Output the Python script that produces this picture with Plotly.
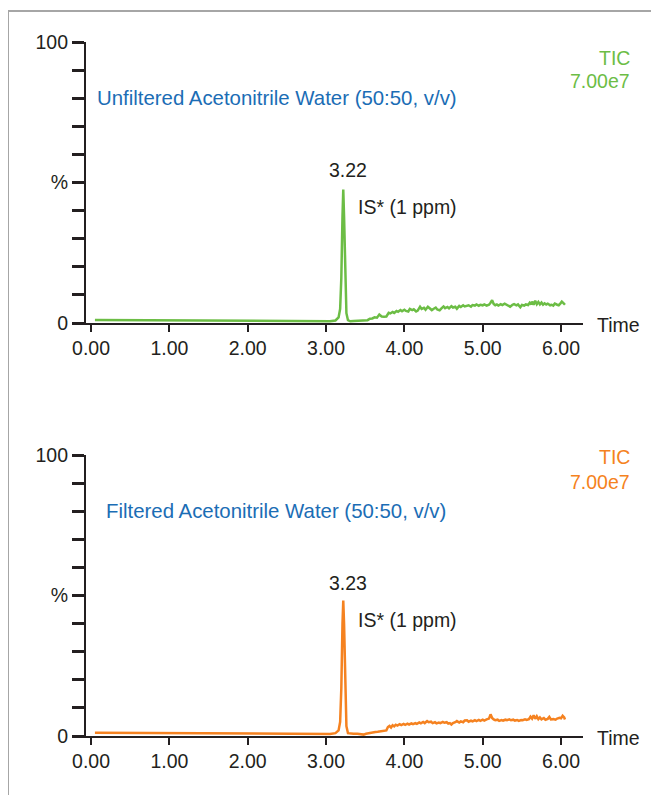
import plotly.graph_objects as go

# page body has an 8px margin, so the figure is sized to fill the remaining viewport
OFF = 8
W, H = 659 - OFF, 795 - OFF

# ---------------- data ----------------
tick_vals_x = [0, 1, 2, 3, 4, 5, 6]
tick_text_x = ["0.00", "1.00", "2.00", "3.00", "4.00", "5.00", "6.00"]
tick_vals_y = [0, 10, 20, 30, 40, 50, 60, 70, 80, 90, 100]
tick_text_y = ["0", "", "", "", "", "%", "", "", "", "", "100"]

unfilt_time = [0.05, 0.5, 1.0, 1.5, 2.0, 2.5, 2.9, 3.05, 3.12, 3.16, 3.18, 3.195, 3.21, 3.22, 3.23, 3.245, 3.26, 3.28, 3.31,
               3.35, 3.40, 3.45, 3.50, 3.53, 3.56, 3.59, 3.62, 3.65, 3.68, 3.71, 3.74, 3.77, 3.80, 3.82, 3.85, 3.87, 3.90,
               3.92, 3.95, 3.97, 4.00, 4.02, 4.05, 4.07, 4.10, 4.12, 4.15, 4.17, 4.20, 4.22, 4.25, 4.27, 4.30, 4.32, 4.35,
               4.37, 4.40, 4.42, 4.45, 4.47, 4.50, 4.52, 4.55, 4.57, 4.60, 4.62, 4.65, 4.67, 4.70, 4.72, 4.75, 4.77, 4.80,
               4.82, 4.85, 4.87, 4.90, 4.92, 4.95, 4.97, 5.00, 5.02, 5.05, 5.08, 5.10, 5.12, 5.14, 5.16, 5.18, 5.20, 5.23,
               5.25, 5.28, 5.30, 5.33, 5.35, 5.38, 5.40, 5.43, 5.45, 5.48, 5.50, 5.53, 5.55, 5.58, 5.60, 5.62, 5.63, 5.65,
               5.67, 5.69, 5.71, 5.73, 5.75, 5.77, 5.79, 5.81, 5.83, 5.86, 5.88, 5.90, 5.92, 5.95, 5.97, 5.99, 6.01, 6.03,
               6.05]
unfilt_pct = [1.1, 1.0, 0.9, 0.8, 0.7, 0.6, 0.55, 0.6, 0.9, 2.0, 5.0, 16, 38, 47.5, 38, 14, 3.5, 1.0, 0.6,
              0.7, 0.8, 0.9, 1.1, 1.0, 1.5, 1.6, 2.0, 1.9, 3.0, 2.3, 2.2, 2.3, 3.6, 3.4, 3.9, 3.6, 4.3,
              4.0, 4.6, 4.2, 4.7, 4.3, 4.1, 5.0, 4.6, 4.9, 4.1, 4.4, 5.8, 5.0, 5.4, 4.7, 5.8, 5.2, 4.6,
              5.0, 5.5, 4.8, 4.5, 5.1, 5.9, 5.3, 5.7, 5.2, 6.0, 5.5, 5.8, 5.1, 6.1, 5.7, 6.3, 5.9, 6.0,
              6.3, 5.8, 6.4, 6.2, 6.6, 6.1, 6.5, 6.3, 6.6, 6.2, 6.5, 7.2, 8.1, 6.8, 6.3, 6.6, 6.2, 6.7,
              6.4, 6.9, 6.6, 6.2, 5.8, 6.5, 6.7, 6.3, 6.6, 5.6, 6.4, 6.2, 6.6, 6.4, 7.2, 6.6, 7.6, 6.5,
              7.9, 6.7, 7.5, 6.6, 7.3, 6.5, 7.0, 6.6, 6.9, 6.3, 6.5, 6.2, 6.9, 6.5, 6.3, 6.9, 7.6, 7.1,
              6.5]

filt_time = [0.05, 0.5, 1.0, 1.5, 2.0, 2.5, 2.9, 3.05, 3.12, 3.16, 3.18, 3.195, 3.21, 3.22, 3.23, 3.245, 3.26, 3.28, 3.31,
             3.35, 3.40, 3.45, 3.48, 3.51, 3.54, 3.57, 3.60, 3.63, 3.66, 3.69, 3.72, 3.75, 3.77, 3.79, 3.81, 3.83, 3.85,
             3.87, 3.89, 3.91, 3.94, 3.96, 3.99, 4.01, 4.04, 4.06, 4.09, 4.11, 4.14, 4.16, 4.19, 4.21, 4.24, 4.26, 4.29,
             4.31, 4.34, 4.36, 4.39, 4.41, 4.44, 4.46, 4.49, 4.51, 4.54, 4.56, 4.58, 4.60, 4.62, 4.65, 4.67, 4.70, 4.72,
             4.75, 4.77, 4.80, 4.82, 4.85, 4.87, 4.90, 4.92, 4.95, 4.97, 5.00, 5.02, 5.05, 5.08, 5.10, 5.12, 5.14, 5.16,
             5.19, 5.21, 5.24, 5.26, 5.29, 5.31, 5.34, 5.36, 5.39, 5.41, 5.44, 5.46, 5.49, 5.51, 5.54, 5.56, 5.59, 5.61,
             5.63, 5.65, 5.67, 5.69, 5.71, 5.73, 5.75, 5.78, 5.80, 5.83, 5.85, 5.87, 5.90, 5.93, 5.95, 5.98, 6.00, 6.02,
             6.04, 6.05]
filt_pct = [1.2, 1.1, 1.0, 0.9, 0.8, 0.7, 0.6, 0.7, 1.0, 2.0, 5.0, 17, 40, 48.2, 40, 15, 3.5, 1.0, 0.8,
            0.8, 0.8, 0.7, 0.5, 0.8, 1.0, 1.1, 1.3, 1.4, 1.5, 1.6, 1.7, 1.8, 2.0, 3.2, 3.6, 3.0, 3.8,
            3.4, 4.0, 3.7, 4.2, 3.9, 4.3, 4.0, 4.4, 4.1, 4.5, 4.2, 4.6, 4.3, 4.8, 4.5, 5.0, 4.6, 5.3,
            4.9, 5.1, 4.6, 4.9, 4.5, 4.8, 4.6, 5.0, 4.7, 4.9, 4.4, 4.6, 4.1, 4.6, 4.9, 5.3, 4.8, 5.2,
            4.9, 5.5, 5.6, 5.1, 5.5, 5.2, 5.6, 5.3, 5.7, 5.4, 5.8, 5.5, 5.9, 6.2, 7.7, 6.4, 5.9, 5.6,
            5.8, 5.4, 5.7, 5.5, 5.8, 5.6, 5.9, 5.6, 5.8, 5.5, 5.7, 5.4, 5.7, 5.6, 5.9, 5.7, 6.0, 6.9,
            6.2, 7.4, 6.1, 7.0, 6.0, 6.6, 5.9, 6.4, 5.8, 6.1, 6.8, 5.9, 6.0, 5.8, 6.2, 6.5, 6.3, 7.2,
            6.6, 5.9]

peak_labels = ["3.22", "3.23"]
titles = ["Unfiltered Acetonitrile Water (50:50, v/v)", "Filtered Acetonitrile Water (50:50, v/v)"]
tic_text = ["TIC", "7.00e7"]

# ---------------- style ----------------
GREEN = "#6cbd45"
ORANGE = "#f58220"
BLUE = "#1b6db5"
INK = "#231f20"
FONT = "Liberation Sans, Arial, sans-serif"
FS = 19.5
FS_TITLE = 20.4


def px(x):
    # screen pixel -> paper fraction
    return (x - OFF) / W


def py(y):
    return 1 - (y - OFF) / H


fig = go.Figure()
fig.add_trace(go.Scatter(x=unfilt_time, y=unfilt_pct, mode="lines",
                         line=dict(color=GREEN, width=2.5), xaxis="x", yaxis="y", showlegend=False))
fig.add_trace(go.Scatter(x=filt_time, y=filt_pct, mode="lines",
                         line=dict(color=ORANGE, width=2.5), xaxis="x2", yaxis="y2", showlegend=False))

x_dom = [px(86), px(583)]
x_range = [-0.064, 6.28]
y_doms = [[py(323), py(42)], [py(736), py(455)]]


def xax(anchor):
    return dict(domain=x_dom, range=x_range, anchor=anchor, tickvals=tick_vals_x, ticktext=tick_text_x,
                ticks="outside", ticklen=7, tickwidth=2, tickcolor=INK, showline=True, linewidth=2,
                linecolor=INK, showgrid=False, zeroline=False, tickfont=dict(size=FS, color=INK, family=FONT),
                fixedrange=True, automargin=False)


def yax(anchor, dom):
    return dict(domain=dom, range=[0, 100], anchor=anchor, tickvals=tick_vals_y, ticktext=tick_text_y,
                ticks="outside", ticklen=12, tickwidth=2.8, tickcolor=INK, showline=True, linewidth=2.2,
                linecolor=INK, showgrid=False, zeroline=False, tickfont=dict(size=FS, color=INK, family=FONT),
                fixedrange=True, automargin=False)


annotations = []


def ann(text, x, y, color, xanchor, size=FS):
    annotations.append(dict(text=text, x=px(x), y=py(y), xref="paper", yref="paper", showarrow=False,
                            xanchor=xanchor, yanchor="middle", font=dict(size=size, color=color, family=FONT)))


panel_offsets = [0, 413]
tic_y = [(58, 81), (457, 482)]
colors = [GREEN, ORANGE]
title_x = [95, 104]
title_y = [98, 511]
for i in range(2):
    off = panel_offsets[i]
    ann(titles[i], title_x[i], title_y[i], BLUE, "left", FS_TITLE)
    ann(tic_text[0], 632, tic_y[i][0], colors[i], "right")
    ann(tic_text[1], 632, tic_y[i][1], colors[i], "right")
    ann(peak_labels[i], 348, 170 + off, INK, "center")
    ann("IS* (1 ppm)", 356, 207 + off, INK, "left")
    ann("Time", 595, 325 + off, INK, "left")

shapes = [
    dict(type="line", xref="paper", yref="paper", x0=px(8), x1=1.0, y0=py(11), y1=py(11),
         line=dict(color="#a6a6a6", width=2)),
    dict(type="line", xref="paper", yref="paper", x0=px(8), x1=px(8), y0=py(11), y1=0,
         line=dict(color="#a6a6a6", width=2)),
]

fig.update_layout(
    template="none",
    width=W, height=H,
    margin=dict(l=0, r=0, t=0, b=0, pad=0),
    paper_bgcolor="white", plot_bgcolor="white",
    xaxis=xax("y"), yaxis=yax("x", y_doms[0]),
    xaxis2=xax("y2"), yaxis2=yax("x2", y_doms[1]),
    annotations=annotations, shapes=shapes,
    font=dict(family=FONT, color=INK),
    showlegend=False,
)

fig.write_html("out.html")
